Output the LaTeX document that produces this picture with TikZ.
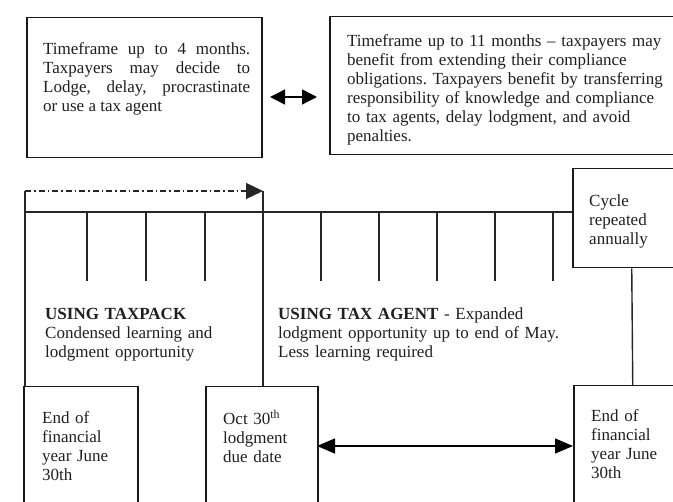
\documentclass[tikz,border=0pt]{standalone}
\usepackage{fontspec}
\setmainfont{Liberation Serif}
\usetikzlibrary{arrows.meta,calc}
\begin{document}
\begin{tikzpicture}[x=1pt,y=-1pt,
  box/.style={draw=black!90, line width=1.5pt, inner sep=0pt, anchor=north west},
  txt/.style={anchor=base west, inner sep=0pt, font=\fontsize{17}{19}\selectfont\frenchspacing, text=black!88},
  ln/.style={line width=1.4pt, draw=black!85},
  dbl/.style={line width=1.4pt, {Triangle[length=15pt,width=15pt]}-{Triangle[length=15pt,width=15pt]}}]
\useasboundingbox (0,0) rectangle (673,502);
\clip (0,0) rectangle (673,502);
% boxes
\node[box, minimum width=235pt, minimum height=140pt] (b1) at (26,17) {};
\node[box, minimum width=370pt, minimum height=138pt] (b2) at (329,16) {};
\node[box, minimum width=118pt, minimum height=99pt] (cyc) at (572,168) {};
\node[box, minimum width=114pt, minimum height=140pt] (bl) at (23,386) {};
\node[box, minimum width=112pt, minimum height=140pt] (oct) at (205,386) {};
\node[box, minimum width=118pt, minimum height=140pt] (br) at (573,385) {};
% texts
\node[txt, text width=207pt, align=justify] (t1) at (43,55) {Timeframe up to 4 months.\linebreak Taxpayers may decide to\linebreak Lodge, delay, procrastinate\linebreak or use a tax agent};
\node[txt, text width=320pt, align=left] (t2) at (347,47) {Timeframe up to 11 months \textendash\ taxpayers may\\benefit from extending their compliance\\obligations. Taxpayers benefit by transferring\\responsibility of knowledge and compliance\\to tax agents, delay lodgment, and avoid\\penalties.};
\node[txt, text width=80pt, align=left] (tc) at (589,207) {Cycle\\repeated\\annually};
\node[txt, text width=200pt, align=left] (tp) at (45,320) {\textbf{USING TAXPACK}\\Condensed learning and\\lodgment opportunity};
\node[txt, text width=290pt, align=left] (ta) at (278,320) {\textbf{USING TAX AGENT} - Expanded\\lodgment opportunity up to end of May.\\Less learning required};
\node[txt, text width=90pt, align=left] (tbl) at (42,424) {End of\\financial\\year June\\30th};
\node[txt, text width=90pt, align=left] (toct) at (223,425) {Oct 30\textsuperscript{th}\\lodgment\\due date};
\node[txt, text width=90pt, align=left] (tbr) at (591,422) {End of\\financial\\year June\\30th};
% connectors
\coordinate (a1) at (270,97);
\coordinate (a2) at (317,97);
\draw[dbl] (a1) -- (a2);
\coordinate (tl) at (25,212);
\coordinate (dl) at (25,191);
\coordinate (dr) at (263,191);
\draw[ln] (tl) -- (tl -| cyc.west);
\draw[ln] (dl) -- (dl |- bl.north);
\draw[ln] (dr) -- (dr |- oct.north);
\draw[line width=1.3pt, draw=black!85, dash pattern=on 6pt off 3pt on 1.5pt off 3pt, -{Triangle[length=17pt,width=16pt]}] (dl) -- (dr);
\foreach \x in {87,146,205,321,379,437,495,553}
  \draw[ln] (\x,212) -- (\x,281);
\draw[ln] (cyc.south) -- (br.north);
\coordinate (ba) at (317,446);
\draw[line width=1.4pt, {Triangle[length=18pt,width=15pt]}-{Triangle[length=18pt,width=15pt]}] (ba) -- (ba -| br.west);
\end{tikzpicture}
\end{document}
